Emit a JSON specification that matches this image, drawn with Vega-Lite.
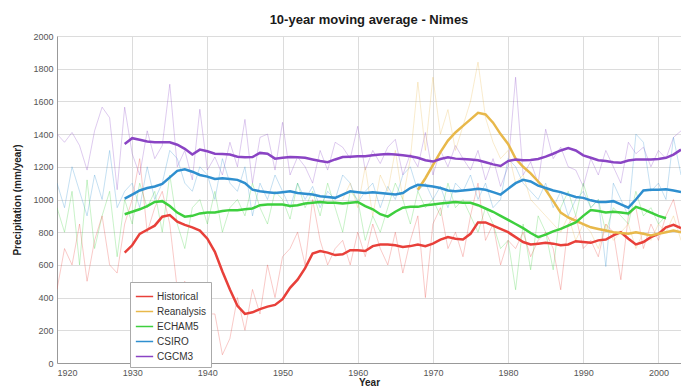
{
"$schema": "https://vega.github.io/schema/vega-lite/v6.json",
"width": 624, "height": 327,
"autosize": {"type": "none"},
"padding": {"left": 57, "top": 36, "right": 0, "bottom": 27},
"background": "white",
"title": {"text": "10-year moving average - Nimes", "fontSize": 13, "fontWeight": "bold", "font": "Liberation Sans", "color": "#1a1a1a", "offset": 5},
"config": {"view": {"stroke": null}, "font": "Liberation Sans"},
"resolve": {"legend": {"color": "independent"}},
"datasets": {
"avg": [
{"series":"Historical","year":1929,"value":675},{"series":"Historical","year":1930,"value":720},{"series":"Historical","year":1931,"value":790},{"series":"Historical","year":1932,"value":815},{"series":"Historical","year":1933,"value":840},{"series":"Historical","year":1934,"value":895},{"series":"Historical","year":1935,"value":905},{"series":"Historical","year":1936,"value":865},{"series":"Historical","year":1937,"value":845},{"series":"Historical","year":1938,"value":830},{"series":"Historical","year":1939,"value":810},{"series":"Historical","year":1940,"value":760},{"series":"Historical","year":1941,"value":680},{"series":"Historical","year":1942,"value":560},{"series":"Historical","year":1943,"value":450},{"series":"Historical","year":1944,"value":350},{"series":"Historical","year":1945,"value":300},{"series":"Historical","year":1946,"value":310},{"series":"Historical","year":1947,"value":330},{"series":"Historical","year":1948,"value":345},{"series":"Historical","year":1949,"value":355},{"series":"Historical","year":1950,"value":390},{"series":"Historical","year":1951,"value":460},{"series":"Historical","year":1952,"value":510},{"series":"Historical","year":1953,"value":580},{"series":"Historical","year":1954,"value":670},{"series":"Historical","year":1955,"value":685},{"series":"Historical","year":1956,"value":675},{"series":"Historical","year":1957,"value":660},{"series":"Historical","year":1958,"value":665},{"series":"Historical","year":1959,"value":690},{"series":"Historical","year":1960,"value":690},{"series":"Historical","year":1961,"value":685},{"series":"Historical","year":1962,"value":715},{"series":"Historical","year":1963,"value":725},{"series":"Historical","year":1964,"value":725},{"series":"Historical","year":1965,"value":720},{"series":"Historical","year":1966,"value":710},{"series":"Historical","year":1967,"value":715},{"series":"Historical","year":1968,"value":725},{"series":"Historical","year":1969,"value":715},{"series":"Historical","year":1970,"value":730},{"series":"Historical","year":1971,"value":755},{"series":"Historical","year":1972,"value":770},{"series":"Historical","year":1973,"value":760},{"series":"Historical","year":1974,"value":755},{"series":"Historical","year":1975,"value":790},{"series":"Historical","year":1976,"value":860},{"series":"Historical","year":1977,"value":860},{"series":"Historical","year":1978,"value":840},{"series":"Historical","year":1979,"value":820},{"series":"Historical","year":1980,"value":800},{"series":"Historical","year":1981,"value":770},{"series":"Historical","year":1982,"value":740},{"series":"Historical","year":1983,"value":725},{"series":"Historical","year":1984,"value":730},{"series":"Historical","year":1985,"value":735},{"series":"Historical","year":1986,"value":730},{"series":"Historical","year":1987,"value":720},{"series":"Historical","year":1988,"value":725},{"series":"Historical","year":1989,"value":745},{"series":"Historical","year":1990,"value":740},{"series":"Historical","year":1991,"value":735},{"series":"Historical","year":1992,"value":750},{"series":"Historical","year":1993,"value":755},{"series":"Historical","year":1994,"value":780},{"series":"Historical","year":1995,"value":800},{"series":"Historical","year":1996,"value":760},{"series":"Historical","year":1997,"value":725},{"series":"Historical","year":1998,"value":740},{"series":"Historical","year":1999,"value":770},{"series":"Historical","year":2000,"value":790},{"series":"Historical","year":2001,"value":830},{"series":"Historical","year":2002,"value":845},{"series":"Historical","year":2003,"value":825},
{"series":"Reanalysis","year":1968,"value":1060},{"series":"Reanalysis","year":1969,"value":1130},{"series":"Reanalysis","year":1970,"value":1210},{"series":"Reanalysis","year":1971,"value":1290},{"series":"Reanalysis","year":1972,"value":1360},{"series":"Reanalysis","year":1973,"value":1410},{"series":"Reanalysis","year":1974,"value":1450},{"series":"Reanalysis","year":1975,"value":1490},{"series":"Reanalysis","year":1976,"value":1530},{"series":"Reanalysis","year":1977,"value":1520},{"series":"Reanalysis","year":1978,"value":1470},{"series":"Reanalysis","year":1979,"value":1400},{"series":"Reanalysis","year":1980,"value":1340},{"series":"Reanalysis","year":1981,"value":1250},{"series":"Reanalysis","year":1982,"value":1200},{"series":"Reanalysis","year":1983,"value":1160},{"series":"Reanalysis","year":1984,"value":1110},{"series":"Reanalysis","year":1985,"value":1060},{"series":"Reanalysis","year":1986,"value":990},{"series":"Reanalysis","year":1987,"value":920},{"series":"Reanalysis","year":1988,"value":890},{"series":"Reanalysis","year":1989,"value":870},{"series":"Reanalysis","year":1990,"value":850},{"series":"Reanalysis","year":1991,"value":830},{"series":"Reanalysis","year":1992,"value":820},{"series":"Reanalysis","year":1993,"value":810},{"series":"Reanalysis","year":1994,"value":800},{"series":"Reanalysis","year":1995,"value":795},{"series":"Reanalysis","year":1996,"value":790},{"series":"Reanalysis","year":1997,"value":800},{"series":"Reanalysis","year":1998,"value":790},{"series":"Reanalysis","year":1999,"value":780},{"series":"Reanalysis","year":2000,"value":790},{"series":"Reanalysis","year":2001,"value":800},{"series":"Reanalysis","year":2002,"value":810},{"series":"Reanalysis","year":2003,"value":800},
{"series":"ECHAM5","year":1929,"value":910},{"series":"ECHAM5","year":1930,"value":925},{"series":"ECHAM5","year":1931,"value":940},{"series":"ECHAM5","year":1932,"value":960},{"series":"ECHAM5","year":1933,"value":985},{"series":"ECHAM5","year":1934,"value":990},{"series":"ECHAM5","year":1935,"value":960},{"series":"ECHAM5","year":1936,"value":920},{"series":"ECHAM5","year":1937,"value":895},{"series":"ECHAM5","year":1938,"value":900},{"series":"ECHAM5","year":1939,"value":915},{"series":"ECHAM5","year":1940,"value":920},{"series":"ECHAM5","year":1941,"value":920},{"series":"ECHAM5","year":1942,"value":930},{"series":"ECHAM5","year":1943,"value":935},{"series":"ECHAM5","year":1944,"value":935},{"series":"ECHAM5","year":1945,"value":940},{"series":"ECHAM5","year":1946,"value":945},{"series":"ECHAM5","year":1947,"value":965},{"series":"ECHAM5","year":1948,"value":970},{"series":"ECHAM5","year":1949,"value":970},{"series":"ECHAM5","year":1950,"value":970},{"series":"ECHAM5","year":1951,"value":960},{"series":"ECHAM5","year":1952,"value":965},{"series":"ECHAM5","year":1953,"value":975},{"series":"ECHAM5","year":1954,"value":980},{"series":"ECHAM5","year":1955,"value":985},{"series":"ECHAM5","year":1956,"value":980},{"series":"ECHAM5","year":1957,"value":980},{"series":"ECHAM5","year":1958,"value":975},{"series":"ECHAM5","year":1959,"value":980},{"series":"ECHAM5","year":1960,"value":985},{"series":"ECHAM5","year":1961,"value":960},{"series":"ECHAM5","year":1962,"value":940},{"series":"ECHAM5","year":1963,"value":910},{"series":"ECHAM5","year":1964,"value":895},{"series":"ECHAM5","year":1965,"value":925},{"series":"ECHAM5","year":1966,"value":950},{"series":"ECHAM5","year":1967,"value":955},{"series":"ECHAM5","year":1968,"value":955},{"series":"ECHAM5","year":1969,"value":965},{"series":"ECHAM5","year":1970,"value":970},{"series":"ECHAM5","year":1971,"value":975},{"series":"ECHAM5","year":1972,"value":980},{"series":"ECHAM5","year":1973,"value":985},{"series":"ECHAM5","year":1974,"value":980},{"series":"ECHAM5","year":1975,"value":980},{"series":"ECHAM5","year":1976,"value":965},{"series":"ECHAM5","year":1977,"value":945},{"series":"ECHAM5","year":1978,"value":925},{"series":"ECHAM5","year":1979,"value":900},{"series":"ECHAM5","year":1980,"value":875},{"series":"ECHAM5","year":1981,"value":850},{"series":"ECHAM5","year":1982,"value":825},{"series":"ECHAM5","year":1983,"value":795},{"series":"ECHAM5","year":1984,"value":770},{"series":"ECHAM5","year":1985,"value":785},{"series":"ECHAM5","year":1986,"value":805},{"series":"ECHAM5","year":1987,"value":820},{"series":"ECHAM5","year":1988,"value":840},{"series":"ECHAM5","year":1989,"value":860},{"series":"ECHAM5","year":1990,"value":900},{"series":"ECHAM5","year":1991,"value":935},{"series":"ECHAM5","year":1992,"value":930},{"series":"ECHAM5","year":1993,"value":920},{"series":"ECHAM5","year":1994,"value":925},{"series":"ECHAM5","year":1995,"value":920},{"series":"ECHAM5","year":1996,"value":915},{"series":"ECHAM5","year":1997,"value":955},{"series":"ECHAM5","year":1998,"value":940},{"series":"ECHAM5","year":1999,"value":920},{"series":"ECHAM5","year":2000,"value":900},{"series":"ECHAM5","year":2001,"value":885},
{"series":"CSIRO","year":1929,"value":1005},{"series":"CSIRO","year":1930,"value":1030},{"series":"CSIRO","year":1931,"value":1055},{"series":"CSIRO","year":1932,"value":1070},{"series":"CSIRO","year":1933,"value":1080},{"series":"CSIRO","year":1934,"value":1095},{"series":"CSIRO","year":1935,"value":1135},{"series":"CSIRO","year":1936,"value":1175},{"series":"CSIRO","year":1937,"value":1185},{"series":"CSIRO","year":1938,"value":1170},{"series":"CSIRO","year":1939,"value":1150},{"series":"CSIRO","year":1940,"value":1140},{"series":"CSIRO","year":1941,"value":1125},{"series":"CSIRO","year":1942,"value":1130},{"series":"CSIRO","year":1943,"value":1125},{"series":"CSIRO","year":1944,"value":1120},{"series":"CSIRO","year":1945,"value":1100},{"series":"CSIRO","year":1946,"value":1060},{"series":"CSIRO","year":1947,"value":1050},{"series":"CSIRO","year":1948,"value":1045},{"series":"CSIRO","year":1949,"value":1040},{"series":"CSIRO","year":1950,"value":1045},{"series":"CSIRO","year":1951,"value":1050},{"series":"CSIRO","year":1952,"value":1040},{"series":"CSIRO","year":1953,"value":1035},{"series":"CSIRO","year":1954,"value":1030},{"series":"CSIRO","year":1955,"value":1020},{"series":"CSIRO","year":1956,"value":1015},{"series":"CSIRO","year":1957,"value":1010},{"series":"CSIRO","year":1958,"value":1030},{"series":"CSIRO","year":1959,"value":1050},{"series":"CSIRO","year":1960,"value":1045},{"series":"CSIRO","year":1961,"value":1040},{"series":"CSIRO","year":1962,"value":1045},{"series":"CSIRO","year":1963,"value":1040},{"series":"CSIRO","year":1964,"value":1035},{"series":"CSIRO","year":1965,"value":1030},{"series":"CSIRO","year":1966,"value":1040},{"series":"CSIRO","year":1967,"value":1070},{"series":"CSIRO","year":1968,"value":1090},{"series":"CSIRO","year":1969,"value":1085},{"series":"CSIRO","year":1970,"value":1080},{"series":"CSIRO","year":1971,"value":1070},{"series":"CSIRO","year":1972,"value":1055},{"series":"CSIRO","year":1973,"value":1050},{"series":"CSIRO","year":1974,"value":1055},{"series":"CSIRO","year":1975,"value":1060},{"series":"CSIRO","year":1976,"value":1065},{"series":"CSIRO","year":1977,"value":1060},{"series":"CSIRO","year":1978,"value":1045},{"series":"CSIRO","year":1979,"value":1030},{"series":"CSIRO","year":1980,"value":1065},{"series":"CSIRO","year":1981,"value":1100},{"series":"CSIRO","year":1982,"value":1120},{"series":"CSIRO","year":1983,"value":1110},{"series":"CSIRO","year":1984,"value":1085},{"series":"CSIRO","year":1985,"value":1070},{"series":"CSIRO","year":1986,"value":1055},{"series":"CSIRO","year":1987,"value":1045},{"series":"CSIRO","year":1988,"value":1030},{"series":"CSIRO","year":1989,"value":1015},{"series":"CSIRO","year":1990,"value":1010},{"series":"CSIRO","year":1991,"value":995},{"series":"CSIRO","year":1992,"value":985},{"series":"CSIRO","year":1993,"value":985},{"series":"CSIRO","year":1994,"value":990},{"series":"CSIRO","year":1995,"value":970},{"series":"CSIRO","year":1996,"value":950},{"series":"CSIRO","year":1997,"value":1000},{"series":"CSIRO","year":1998,"value":1055},{"series":"CSIRO","year":1999,"value":1060},{"series":"CSIRO","year":2000,"value":1060},{"series":"CSIRO","year":2001,"value":1062},{"series":"CSIRO","year":2002,"value":1055},{"series":"CSIRO","year":2003,"value":1045},
{"series":"CGCM3","year":1929,"value":1340},{"series":"CGCM3","year":1930,"value":1375},{"series":"CGCM3","year":1931,"value":1365},{"series":"CGCM3","year":1932,"value":1355},{"series":"CGCM3","year":1933,"value":1350},{"series":"CGCM3","year":1934,"value":1350},{"series":"CGCM3","year":1935,"value":1350},{"series":"CGCM3","year":1936,"value":1335},{"series":"CGCM3","year":1937,"value":1310},{"series":"CGCM3","year":1938,"value":1275},{"series":"CGCM3","year":1939,"value":1305},{"series":"CGCM3","year":1940,"value":1295},{"series":"CGCM3","year":1941,"value":1280},{"series":"CGCM3","year":1942,"value":1278},{"series":"CGCM3","year":1943,"value":1275},{"series":"CGCM3","year":1944,"value":1262},{"series":"CGCM3","year":1945,"value":1258},{"series":"CGCM3","year":1946,"value":1260},{"series":"CGCM3","year":1947,"value":1285},{"series":"CGCM3","year":1948,"value":1280},{"series":"CGCM3","year":1949,"value":1250},{"series":"CGCM3","year":1950,"value":1255},{"series":"CGCM3","year":1951,"value":1260},{"series":"CGCM3","year":1952,"value":1258},{"series":"CGCM3","year":1953,"value":1255},{"series":"CGCM3","year":1954,"value":1245},{"series":"CGCM3","year":1955,"value":1235},{"series":"CGCM3","year":1956,"value":1228},{"series":"CGCM3","year":1957,"value":1245},{"series":"CGCM3","year":1958,"value":1260},{"series":"CGCM3","year":1959,"value":1262},{"series":"CGCM3","year":1960,"value":1265},{"series":"CGCM3","year":1961,"value":1265},{"series":"CGCM3","year":1962,"value":1270},{"series":"CGCM3","year":1963,"value":1275},{"series":"CGCM3","year":1964,"value":1278},{"series":"CGCM3","year":1965,"value":1275},{"series":"CGCM3","year":1966,"value":1270},{"series":"CGCM3","year":1967,"value":1265},{"series":"CGCM3","year":1968,"value":1255},{"series":"CGCM3","year":1969,"value":1240},{"series":"CGCM3","year":1970,"value":1232},{"series":"CGCM3","year":1971,"value":1248},{"series":"CGCM3","year":1972,"value":1258},{"series":"CGCM3","year":1973,"value":1250},{"series":"CGCM3","year":1974,"value":1248},{"series":"CGCM3","year":1975,"value":1245},{"series":"CGCM3","year":1976,"value":1240},{"series":"CGCM3","year":1977,"value":1228},{"series":"CGCM3","year":1978,"value":1215},{"series":"CGCM3","year":1979,"value":1205},{"series":"CGCM3","year":1980,"value":1235},{"series":"CGCM3","year":1981,"value":1245},{"series":"CGCM3","year":1982,"value":1240},{"series":"CGCM3","year":1983,"value":1242},{"series":"CGCM3","year":1984,"value":1248},{"series":"CGCM3","year":1985,"value":1262},{"series":"CGCM3","year":1986,"value":1280},{"series":"CGCM3","year":1987,"value":1300},{"series":"CGCM3","year":1988,"value":1315},{"series":"CGCM3","year":1989,"value":1300},{"series":"CGCM3","year":1990,"value":1270},{"series":"CGCM3","year":1991,"value":1255},{"series":"CGCM3","year":1992,"value":1240},{"series":"CGCM3","year":1993,"value":1235},{"series":"CGCM3","year":1994,"value":1228},{"series":"CGCM3","year":1995,"value":1225},{"series":"CGCM3","year":1996,"value":1238},{"series":"CGCM3","year":1997,"value":1245},{"series":"CGCM3","year":1998,"value":1245},{"series":"CGCM3","year":1999,"value":1245},{"series":"CGCM3","year":2000,"value":1248},{"series":"CGCM3","year":2001,"value":1255},{"series":"CGCM3","year":2002,"value":1275},{"series":"CGCM3","year":2003,"value":1305}
],
"annual": [
{"series":"CGCM3","year":1920,"value":1400},{"series":"CGCM3","year":1921,"value":1350},{"series":"CGCM3","year":1922,"value":1410},{"series":"CGCM3","year":1923,"value":1330},{"series":"CGCM3","year":1924,"value":1180},{"series":"CGCM3","year":1925,"value":1420},{"series":"CGCM3","year":1926,"value":1565},{"series":"CGCM3","year":1927,"value":1500},{"series":"CGCM3","year":1928,"value":1060},{"series":"CGCM3","year":1929,"value":1565},{"series":"CGCM3","year":1930,"value":1280},{"series":"CGCM3","year":1931,"value":1150},{"series":"CGCM3","year":1932,"value":1420},{"series":"CGCM3","year":1933,"value":1250},{"series":"CGCM3","year":1934,"value":1330},{"series":"CGCM3","year":1935,"value":1705},{"series":"CGCM3","year":1936,"value":1200},{"series":"CGCM3","year":1937,"value":1300},{"series":"CGCM3","year":1938,"value":1120},{"series":"CGCM3","year":1939,"value":1552},{"series":"CGCM3","year":1940,"value":1180},{"series":"CGCM3","year":1941,"value":1260},{"series":"CGCM3","year":1942,"value":1150},{"series":"CGCM3","year":1943,"value":1350},{"series":"CGCM3","year":1944,"value":1200},{"series":"CGCM3","year":1945,"value":1490},{"series":"CGCM3","year":1946,"value":1100},{"series":"CGCM3","year":1947,"value":1380},{"series":"CGCM3","year":1948,"value":1400},{"series":"CGCM3","year":1949,"value":1180},{"series":"CGCM3","year":1950,"value":1472},{"series":"CGCM3","year":1951,"value":1150},{"series":"CGCM3","year":1952,"value":1260},{"series":"CGCM3","year":1953,"value":1200},{"series":"CGCM3","year":1954,"value":1100},{"series":"CGCM3","year":1955,"value":1300},{"series":"CGCM3","year":1956,"value":1180},{"series":"CGCM3","year":1957,"value":1350},{"series":"CGCM3","year":1958,"value":1320},{"series":"CGCM3","year":1959,"value":1250},{"series":"CGCM3","year":1960,"value":1448},{"series":"CGCM3","year":1961,"value":1180},{"series":"CGCM3","year":1962,"value":1300},{"series":"CGCM3","year":1963,"value":1220},{"series":"CGCM3","year":1964,"value":1320},{"series":"CGCM3","year":1965,"value":1368},{"series":"CGCM3","year":1966,"value":1150},{"series":"CGCM3","year":1967,"value":1280},{"series":"CGCM3","year":1968,"value":1200},{"series":"CGCM3","year":1969,"value":1410},{"series":"CGCM3","year":1970,"value":1150},{"series":"CGCM3","year":1971,"value":1300},{"series":"CGCM3","year":1972,"value":1200},{"series":"CGCM3","year":1973,"value":1330},{"series":"CGCM3","year":1974,"value":1250},{"series":"CGCM3","year":1975,"value":1180},{"series":"CGCM3","year":1976,"value":1300},{"series":"CGCM3","year":1977,"value":1120},{"series":"CGCM3","year":1978,"value":1250},{"series":"CGCM3","year":1979,"value":1080},{"series":"CGCM3","year":1980,"value":1200},{"series":"CGCM3","year":1981,"value":1748},{"series":"CGCM3","year":1982,"value":1150},{"series":"CGCM3","year":1983,"value":1230},{"series":"CGCM3","year":1984,"value":1100},{"series":"CGCM3","year":1985,"value":1430},{"series":"CGCM3","year":1986,"value":1250},{"series":"CGCM3","year":1987,"value":1320},{"series":"CGCM3","year":1988,"value":1200},{"series":"CGCM3","year":1989,"value":1180},{"series":"CGCM3","year":1990,"value":1080},{"series":"CGCM3","year":1991,"value":1250},{"series":"CGCM3","year":1992,"value":1150},{"series":"CGCM3","year":1993,"value":1300},{"series":"CGCM3","year":1994,"value":1200},{"series":"CGCM3","year":1995,"value":1100},{"series":"CGCM3","year":1996,"value":1350},{"series":"CGCM3","year":1997,"value":1280},{"series":"CGCM3","year":1998,"value":1320},{"series":"CGCM3","year":1999,"value":1200},{"series":"CGCM3","year":2000,"value":1300},{"series":"CGCM3","year":2001,"value":1250},{"series":"CGCM3","year":2002,"value":1380},{"series":"CGCM3","year":2003,"value":1420},
{"series":"CSIRO","year":1920,"value":1100},{"series":"CSIRO","year":1921,"value":950},{"series":"CSIRO","year":1922,"value":1200},{"series":"CSIRO","year":1923,"value":1050},{"series":"CSIRO","year":1924,"value":900},{"series":"CSIRO","year":1925,"value":1150},{"series":"CSIRO","year":1926,"value":1000},{"series":"CSIRO","year":1927,"value":1300},{"series":"CSIRO","year":1928,"value":950},{"series":"CSIRO","year":1929,"value":1050},{"series":"CSIRO","year":1930,"value":1100},{"series":"CSIRO","year":1931,"value":950},{"series":"CSIRO","year":1932,"value":1200},{"series":"CSIRO","year":1933,"value":1000},{"series":"CSIRO","year":1934,"value":1100},{"series":"CSIRO","year":1935,"value":1300},{"series":"CSIRO","year":1936,"value":1250},{"series":"CSIRO","year":1937,"value":1100},{"series":"CSIRO","year":1938,"value":1050},{"series":"CSIRO","year":1939,"value":1200},{"series":"CSIRO","year":1940,"value":1150},{"series":"CSIRO","year":1941,"value":1000},{"series":"CSIRO","year":1942,"value":1250},{"series":"CSIRO","year":1943,"value":1100},{"series":"CSIRO","year":1944,"value":1050},{"series":"CSIRO","year":1945,"value":1200},{"series":"CSIRO","year":1946,"value":900},{"series":"CSIRO","year":1947,"value":1100},{"series":"CSIRO","year":1948,"value":1000},{"series":"CSIRO","year":1949,"value":1150},{"series":"CSIRO","year":1950,"value":1050},{"series":"CSIRO","year":1951,"value":950},{"series":"CSIRO","year":1952,"value":1100},{"series":"CSIRO","year":1953,"value":1000},{"series":"CSIRO","year":1954,"value":1080},{"series":"CSIRO","year":1955,"value":950},{"series":"CSIRO","year":1956,"value":1050},{"series":"CSIRO","year":1957,"value":1000},{"series":"CSIRO","year":1958,"value":1150},{"series":"CSIRO","year":1959,"value":1100},{"series":"CSIRO","year":1960,"value":980},{"series":"CSIRO","year":1961,"value":1050},{"series":"CSIRO","year":1962,"value":1100},{"series":"CSIRO","year":1963,"value":950},{"series":"CSIRO","year":1964,"value":1080},{"series":"CSIRO","year":1965,"value":1000},{"series":"CSIRO","year":1966,"value":1150},{"series":"CSIRO","year":1967,"value":1200},{"series":"CSIRO","year":1968,"value":1050},{"series":"CSIRO","year":1969,"value":1100},{"series":"CSIRO","year":1970,"value":1000},{"series":"CSIRO","year":1971,"value":1080},{"series":"CSIRO","year":1972,"value":950},{"series":"CSIRO","year":1973,"value":1100},{"series":"CSIRO","year":1974,"value":1050},{"series":"CSIRO","year":1975,"value":1150},{"series":"CSIRO","year":1976,"value":1000},{"series":"CSIRO","year":1977,"value":1100},{"series":"CSIRO","year":1978,"value":950},{"series":"CSIRO","year":1979,"value":1000},{"series":"CSIRO","year":1980,"value":1250},{"series":"CSIRO","year":1981,"value":1200},{"series":"CSIRO","year":1982,"value":1100},{"series":"CSIRO","year":1983,"value":1050},{"series":"CSIRO","year":1984,"value":1000},{"series":"CSIRO","year":1985,"value":1100},{"series":"CSIRO","year":1986,"value":950},{"series":"CSIRO","year":1987,"value":1050},{"series":"CSIRO","year":1988,"value":900},{"series":"CSIRO","year":1989,"value":1000},{"series":"CSIRO","year":1990,"value":1050},{"series":"CSIRO","year":1991,"value":950},{"series":"CSIRO","year":1992,"value":1000},{"series":"CSIRO","year":1993,"value":590},{"series":"CSIRO","year":1994,"value":1100},{"series":"CSIRO","year":1995,"value":1000},{"series":"CSIRO","year":1996,"value":900},{"series":"CSIRO","year":1997,"value":1400},{"series":"CSIRO","year":1998,"value":1350},{"series":"CSIRO","year":1999,"value":1050},{"series":"CSIRO","year":2000,"value":1100},{"series":"CSIRO","year":2001,"value":1000},{"series":"CSIRO","year":2002,"value":1380},{"series":"CSIRO","year":2003,"value":1150},
{"series":"ECHAM5","year":1920,"value":950},{"series":"ECHAM5","year":1921,"value":800},{"series":"ECHAM5","year":1922,"value":1050},{"series":"ECHAM5","year":1923,"value":600},{"series":"ECHAM5","year":1924,"value":1120},{"series":"ECHAM5","year":1925,"value":700},{"series":"ECHAM5","year":1926,"value":900},{"series":"ECHAM5","year":1927,"value":1050},{"series":"ECHAM5","year":1928,"value":650},{"series":"ECHAM5","year":1929,"value":1000},{"series":"ECHAM5","year":1930,"value":850},{"series":"ECHAM5","year":1931,"value":1100},{"series":"ECHAM5","year":1932,"value":950},{"series":"ECHAM5","year":1933,"value":1050},{"series":"ECHAM5","year":1934,"value":800},{"series":"ECHAM5","year":1935,"value":1150},{"series":"ECHAM5","year":1936,"value":850},{"series":"ECHAM5","year":1937,"value":700},{"series":"ECHAM5","year":1938,"value":950},{"series":"ECHAM5","year":1939,"value":1000},{"series":"ECHAM5","year":1940,"value":850},{"series":"ECHAM5","year":1941,"value":1050},{"series":"ECHAM5","year":1942,"value":800},{"series":"ECHAM5","year":1943,"value":950},{"series":"ECHAM5","year":1944,"value":1000},{"series":"ECHAM5","year":1945,"value":900},{"series":"ECHAM5","year":1946,"value":1100},{"series":"ECHAM5","year":1947,"value":950},{"series":"ECHAM5","year":1948,"value":850},{"series":"ECHAM5","year":1949,"value":1050},{"series":"ECHAM5","year":1950,"value":1000},{"series":"ECHAM5","year":1951,"value":880},{"series":"ECHAM5","year":1952,"value":1100},{"series":"ECHAM5","year":1953,"value":950},{"series":"ECHAM5","year":1954,"value":1050},{"series":"ECHAM5","year":1955,"value":900},{"series":"ECHAM5","year":1956,"value":1100},{"series":"ECHAM5","year":1957,"value":950},{"series":"ECHAM5","year":1958,"value":800},{"series":"ECHAM5","year":1959,"value":1050},{"series":"ECHAM5","year":1960,"value":1000},{"series":"ECHAM5","year":1961,"value":750},{"series":"ECHAM5","year":1962,"value":900},{"series":"ECHAM5","year":1963,"value":800},{"series":"ECHAM5","year":1964,"value":950},{"series":"ECHAM5","year":1965,"value":1100},{"series":"ECHAM5","year":1966,"value":1000},{"series":"ECHAM5","year":1967,"value":850},{"series":"ECHAM5","year":1968,"value":1050},{"series":"ECHAM5","year":1969,"value":950},{"series":"ECHAM5","year":1970,"value":1000},{"series":"ECHAM5","year":1971,"value":900},{"series":"ECHAM5","year":1972,"value":1100},{"series":"ECHAM5","year":1973,"value":950},{"series":"ECHAM5","year":1974,"value":1000},{"series":"ECHAM5","year":1975,"value":900},{"series":"ECHAM5","year":1976,"value":800},{"series":"ECHAM5","year":1977,"value":950},{"series":"ECHAM5","year":1978,"value":850},{"series":"ECHAM5","year":1979,"value":700},{"series":"ECHAM5","year":1980,"value":750},{"series":"ECHAM5","year":1981,"value":448},{"series":"ECHAM5","year":1982,"value":850},{"series":"ECHAM5","year":1983,"value":570},{"series":"ECHAM5","year":1984,"value":900},{"series":"ECHAM5","year":1985,"value":800},{"series":"ECHAM5","year":1986,"value":570},{"series":"ECHAM5","year":1987,"value":950},{"series":"ECHAM5","year":1988,"value":1050},{"series":"ECHAM5","year":1989,"value":900},{"series":"ECHAM5","year":1990,"value":1100},{"series":"ECHAM5","year":1991,"value":950},{"series":"ECHAM5","year":1992,"value":1000},{"series":"ECHAM5","year":1993,"value":800},{"series":"ECHAM5","year":1994,"value":950},{"series":"ECHAM5","year":1995,"value":900},{"series":"ECHAM5","year":1996,"value":850},{"series":"ECHAM5","year":1997,"value":1050},{"series":"ECHAM5","year":1998,"value":900},{"series":"ECHAM5","year":1999,"value":950},{"series":"ECHAM5","year":2000,"value":850},{"series":"ECHAM5","year":2001,"value":900},
{"series":"Historical","year":1920,"value":450},{"series":"Historical","year":1921,"value":700},{"series":"Historical","year":1922,"value":600},{"series":"Historical","year":1923,"value":850},{"series":"Historical","year":1924,"value":500},{"series":"Historical","year":1925,"value":750},{"series":"Historical","year":1926,"value":900},{"series":"Historical","year":1927,"value":600},{"series":"Historical","year":1928,"value":550},{"series":"Historical","year":1929,"value":850},{"series":"Historical","year":1930,"value":1000},{"series":"Historical","year":1931,"value":1250},{"series":"Historical","year":1932,"value":800},{"series":"Historical","year":1933,"value":950},{"series":"Historical","year":1934,"value":1050},{"series":"Historical","year":1935,"value":850},{"series":"Historical","year":1936,"value":450},{"series":"Historical","year":1937,"value":500},{"series":"Historical","year":1938,"value":400},{"series":"Historical","year":1939,"value":350},{"series":"Historical","year":1940,"value":300},{"series":"Historical","year":1941,"value":300},{"series":"Historical","year":1942,"value":50},{"series":"Historical","year":1943,"value":150},{"series":"Historical","year":1944,"value":400},{"series":"Historical","year":1945,"value":200},{"series":"Historical","year":1946,"value":450},{"series":"Historical","year":1947,"value":300},{"series":"Historical","year":1948,"value":600},{"series":"Historical","year":1949,"value":400},{"series":"Historical","year":1950,"value":650},{"series":"Historical","year":1951,"value":700},{"series":"Historical","year":1952,"value":800},{"series":"Historical","year":1953,"value":600},{"series":"Historical","year":1954,"value":1000},{"series":"Historical","year":1955,"value":750},{"series":"Historical","year":1956,"value":600},{"series":"Historical","year":1957,"value":700},{"series":"Historical","year":1958,"value":750},{"series":"Historical","year":1959,"value":600},{"series":"Historical","year":1960,"value":800},{"series":"Historical","year":1961,"value":650},{"series":"Historical","year":1962,"value":850},{"series":"Historical","year":1963,"value":700},{"series":"Historical","year":1964,"value":600},{"series":"Historical","year":1965,"value":800},{"series":"Historical","year":1966,"value":550},{"series":"Historical","year":1967,"value":750},{"series":"Historical","year":1968,"value":900},{"series":"Historical","year":1969,"value":400},{"series":"Historical","year":1970,"value":850},{"series":"Historical","year":1971,"value":950},{"series":"Historical","year":1972,"value":700},{"series":"Historical","year":1973,"value":800},{"series":"Historical","year":1974,"value":650},{"series":"Historical","year":1975,"value":900},{"series":"Historical","year":1976,"value":1100},{"series":"Historical","year":1977,"value":750},{"series":"Historical","year":1978,"value":850},{"series":"Historical","year":1979,"value":600},{"series":"Historical","year":1980,"value":750},{"series":"Historical","year":1981,"value":700},{"series":"Historical","year":1982,"value":800},{"series":"Historical","year":1983,"value":650},{"series":"Historical","year":1984,"value":750},{"series":"Historical","year":1985,"value":800},{"series":"Historical","year":1986,"value":700},{"series":"Historical","year":1987,"value":448},{"series":"Historical","year":1988,"value":850},{"series":"Historical","year":1989,"value":900},{"series":"Historical","year":1990,"value":700},{"series":"Historical","year":1991,"value":750},{"series":"Historical","year":1992,"value":650},{"series":"Historical","year":1993,"value":850},{"series":"Historical","year":1994,"value":800},{"series":"Historical","year":1995,"value":509},{"series":"Historical","year":1996,"value":900},{"series":"Historical","year":1997,"value":950},{"series":"Historical","year":1998,"value":700},{"series":"Historical","year":1999,"value":850},{"series":"Historical","year":2000,"value":750},{"series":"Historical","year":2001,"value":900},{"series":"Historical","year":2002,"value":1000},{"series":"Historical","year":2003,"value":800},
{"series":"Reanalysis","year":1958,"value":1000},{"series":"Reanalysis","year":1959,"value":1100},{"series":"Reanalysis","year":1960,"value":950},{"series":"Reanalysis","year":1961,"value":1200},{"series":"Reanalysis","year":1962,"value":900},{"series":"Reanalysis","year":1963,"value":1150},{"series":"Reanalysis","year":1964,"value":1050},{"series":"Reanalysis","year":1965,"value":1300},{"series":"Reanalysis","year":1966,"value":1000},{"series":"Reanalysis","year":1967,"value":1250},{"series":"Reanalysis","year":1968,"value":1718},{"series":"Reanalysis","year":1969,"value":1300},{"series":"Reanalysis","year":1970,"value":1748},{"series":"Reanalysis","year":1971,"value":1400},{"series":"Reanalysis","year":1972,"value":1550},{"series":"Reanalysis","year":1973,"value":1300},{"series":"Reanalysis","year":1974,"value":1450},{"series":"Reanalysis","year":1975,"value":1600},{"series":"Reanalysis","year":1976,"value":1840},{"series":"Reanalysis","year":1977,"value":1500},{"series":"Reanalysis","year":1978,"value":1350},{"series":"Reanalysis","year":1979,"value":1250},{"series":"Reanalysis","year":1980,"value":1300},{"series":"Reanalysis","year":1981,"value":1100},{"series":"Reanalysis","year":1982,"value":1150},{"series":"Reanalysis","year":1983,"value":1000},{"series":"Reanalysis","year":1984,"value":950},{"series":"Reanalysis","year":1985,"value":900},{"series":"Reanalysis","year":1986,"value":850},{"series":"Reanalysis","year":1987,"value":800},{"series":"Reanalysis","year":1988,"value":900},{"series":"Reanalysis","year":1989,"value":750},{"series":"Reanalysis","year":1990,"value":850},{"series":"Reanalysis","year":1991,"value":800},{"series":"Reanalysis","year":1992,"value":700},{"series":"Reanalysis","year":1993,"value":850},{"series":"Reanalysis","year":1994,"value":750},{"series":"Reanalysis","year":1995,"value":800},{"series":"Reanalysis","year":1996,"value":850},{"series":"Reanalysis","year":1997,"value":700},{"series":"Reanalysis","year":1998,"value":800},{"series":"Reanalysis","year":1999,"value":750},{"series":"Reanalysis","year":2000,"value":850},{"series":"Reanalysis","year":2001,"value":800},{"series":"Reanalysis","year":2002,"value":900},{"series":"Reanalysis","year":2003,"value":750}
]
},
"encoding": {
  "x": {"field": "year", "type": "quantitative", "scale": {"domain": [1920, 2003], "nice": false, "zero": false},
        "axis": {"title": "Year", "values": [1920,1930,1940,1950,1960,1970,1980,1990,2000], "format": "d", "grid": true, "gridColor": "#dcdcdc", "domainColor": "#999", "ticks": false, "labelFontSize": 9, "labelColor": "#555", "labelPadding": 5, "titleFontSize": 10, "titleFontWeight": "bold", "titleColor": "#222", "titlePadding": 0}},
  "y": {"field": "value", "type": "quantitative", "scale": {"domain": [0, 2000], "nice": false},
        "axis": {"title": "Precipitation (mm/year)", "values": [0,200,400,600,800,1000,1200,1400,1600,1800,2000], "format": "d", "grid": true, "gridColor": "#dcdcdc", "domainColor": "#999", "ticks": false, "labelFontSize": 9, "labelColor": "#555", "labelPadding": 4, "titleFontSize": 10, "titleFontWeight": "bold", "titleColor": "#222", "titlePadding": 10}}
},
"layer": [
  {"data": {"name": "annual"}, "mark": {"type": "line", "strokeWidth": 1, "opacity": 0.28, "clip": true},
   "encoding": {"color": {"field": "series", "type": "nominal", "legend": null,
     "scale": {"domain": ["Historical","Reanalysis","ECHAM5","CSIRO","CGCM3"], "range": ["#e8403a","#e8b84a","#3ecf3e","#2f8fcf","#8a44c4"]}}}},
  {"data": {"name": "avg"}, "mark": {"type": "line", "strokeWidth": 2.5, "clip": true},
   "encoding": {"color": {"field": "series", "type": "nominal",
     "scale": {"domain": ["Historical","Reanalysis","ECHAM5","CSIRO","CGCM3"], "range": ["#e8403a","#e8b84a","#3ecf3e","#2f8fcf","#8a44c4"]},
     "legend": {"title": null, "orient": "none", "legendX": 73, "legendY": 246, "symbolType": "stroke", "symbolSize": 300, "symbolStrokeWidth": 1.5, "labelFontSize": 10, "labelColor": "#333", "labelOffset": 3, "rowPadding": -1, "fillColor": "white", "strokeColor": "#aaa", "padding": 5}}}}
]
}
